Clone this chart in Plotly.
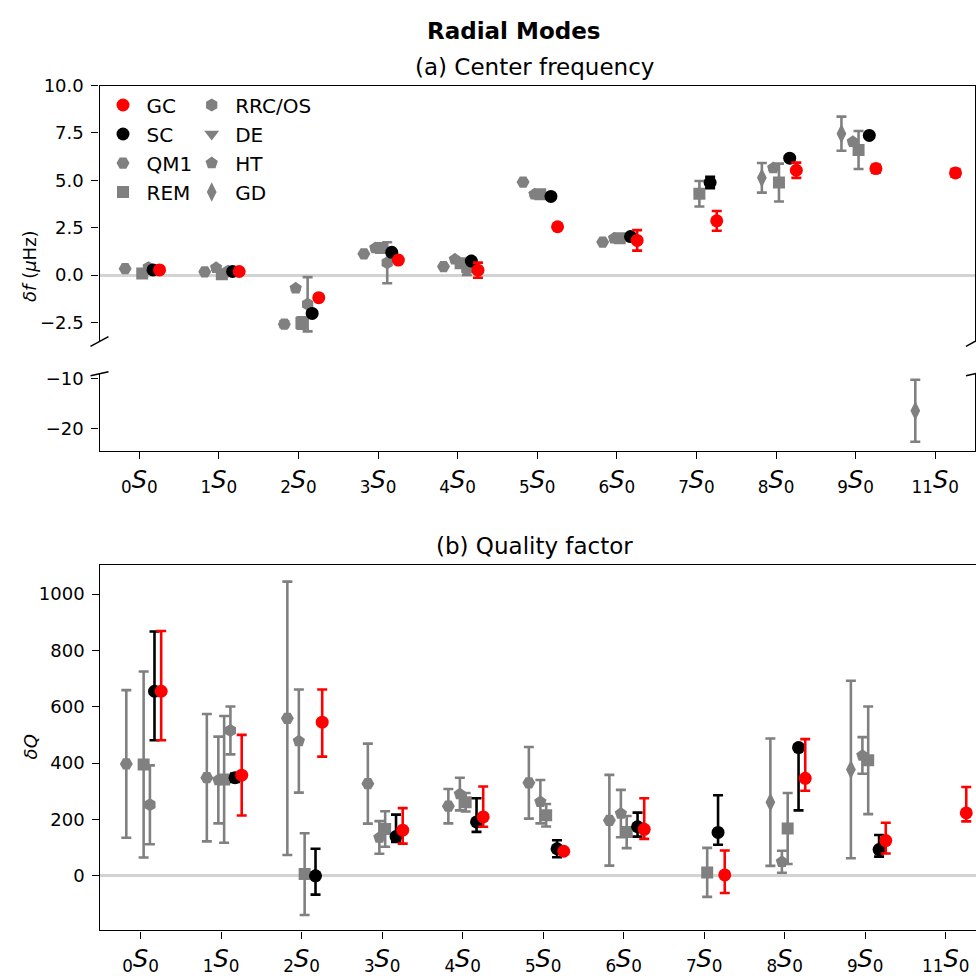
import plotly.graph_objects as go

# ---------------------------------------------------------------- data
modes = ["0", "1", "2", "3", "4", "5", "6", "7", "8", "9", "11"]
mode_pos = list(range(len(modes)))

# (a) centre-frequency shifts, micro-Hz
gc_f = [0.27, 0.19, -1.19, 0.79, 0.26, 2.55, 1.83, 2.86, 5.53, 5.62, 5.39]
gc_f_err = [0.08, 0.08, 0.1, 0.1, 0.40, 0.1, 0.54, 0.52, 0.40, 0.2, 0.2]
sc_f = [0.27, 0.19, -2.02, 1.20, 0.74, 4.15, 2.03, 4.88, 6.17, 7.37, None]
sc_f_err = [0.05, 0.05, 0.1, 0.1, 0.1, 0.1, 0.1, 0.30, 0.1, 0.1, None]
qm1_f = [0.34, 0.17, -2.59, 1.12, 0.45, 4.91, 1.74, None, None, None, None]
qm1_f_err = [0.05, 0.05, 0.15, 0.05, 0.05, 0.05, 0.05, None, None, None, None]
rem_f = [0.08, 0.05, -2.53, 1.43, 0.62, 4.27, 1.94, 4.29, 4.88, 6.60, None]
rem_f_err = [0.1, 0.1, 0.3, 0.2, 0.2, 0.1, 0.1, 0.67, 1.0, 1.0, None]
rrc_f = [0.39, 0.20, -1.54, 0.65, 0.31, None, None, None, None, None, None]
rrc_f_err = [0.1, 0.1, 1.43, 1.08, 0.30, None, None, None, None, None, None]
de_f = [None, None, None, None, None, None, None, None, None, None, None]
de_f_err = [None, None, None, None, None, None, None, None, None, None, None]
ht_f = [None, 0.39, -0.69, 1.43, 0.83, 4.27, 1.94, None, 5.65, 7.03, None]
ht_f_err = [None, 0.1, 0.1, 0.1, 0.1, 0.1, 0.1, None, 0.1, 0.1, None]
gd_f = [None, None, None, None, None, None, None, None, 5.13, 7.46, -16.4]
gd_f_err = [None, None, None, None, None, None, None, None, 0.78, 0.90, 6.2]

# (b) quality-factor values with upper / lower uncertainties
gc_q = [655, 357, 545, 162, 209, 87, 165, 3, 346, 125, 223]
gc_q_up = [214, 143, 116, 78, 108, 8, 110, 87, 139, 63, 92]
gc_q_lo = [174, 143, 122, 48, 35, 8, 34, 64, 44, 46, 30]
sc_q = [655, 348, 0, 139, 191, 96, 174, 154, 455, 93, None]
sc_q_up = [212, 15, 96, 78, 84, 30, 50, 132, 10, 52, None]
sc_q_lo = [174, 15, 67, 19, 35, 30, 35, 44, 223, 25, None]
qm1_q = [397, 348, 559, 327, 247, 330, 197, None, None, None, None]
qm1_q_err = [262, 226, 485, 142, 61, 127, 161, None, None, None, None]
rem_q = [395, 342, 6, 166, 261, 215, 155, 12, 168, 410, None]
rem_q_err = [330, 225, 145, 63, 33, 40, 57, 87, 126, 191, None]
rrc_q = [252, 516, None, None, None, None, None, None, None, None, None]
rrc_q_err = [140, 85, None, None, None, None, None, None, None, None, None]
de_q = [None, None, None, None, None, None, None, None, None, None, None]
de_q_err = [None, None, None, None, None, None, None, None, None, None, None]
ht_q = [None, 340, 478, 136, 290, 263, 221, None, 50, 427, None]
ht_q_err = [None, 154, 183, 58, 58, 77, 84, None, 39, 65, None]
gd_q = [None, None, None, None, None, None, None, None, 261, 377, None]
gd_q_err = [None, None, None, None, None, None, None, None, 226, 315, None]

# ---------------------------------------------------------------- styles
GREY = "#808080"
# colour, symbol, horizontal shift within a mode group, legend box, legend rank
series_style = {
    "QM1": (GREY, "hexagon2", -0.178, "legend", 3),
    "REM": (GREY, "square", 0.037, "legend", 4),
    "RRC/OS": (GREY, "hexagon", 0.115, "legend2", 5),
    "DE": (GREY, "triangle-down", -0.10, "legend2", 6),
    "HT": (GREY, "pentagon", -0.035, "legend2", 7),
    "GD": (GREY, "diamond-tall", -0.178, "legend2", 8),
    "SC": ("black", "circle", 0.172, "legend", 2),
    "GC": ("red", "circle", 0.255, "legend", 1),
}
# groups with only two entries are spread a little wider
shift_override = {("GD", 10): -0.25}

freq = {
    "QM1": (qm1_f, qm1_f_err, qm1_f_err),
    "REM": (rem_f, rem_f_err, rem_f_err),
    "RRC/OS": (rrc_f, rrc_f_err, rrc_f_err),
    "DE": (de_f, de_f_err, de_f_err),
    "HT": (ht_f, ht_f_err, ht_f_err),
    "GD": (gd_f, gd_f_err, gd_f_err),
    "SC": (sc_f, sc_f_err, sc_f_err),
    "GC": (gc_f, gc_f_err, gc_f_err),
}
qual = {
    "QM1": (qm1_q, qm1_q_err, qm1_q_err),
    "REM": (rem_q, rem_q_err, rem_q_err),
    "RRC/OS": (rrc_q, rrc_q_err, rrc_q_err),
    "DE": (de_q, de_q_err, de_q_err),
    "HT": (ht_q, ht_q_err, ht_q_err),
    "GD": (gd_q, gd_q_err, gd_q_err),
    "SC": (sc_q, sc_q_up, sc_q_lo),
    "GC": (gc_q, gc_q_up, gc_q_lo),
}
MARKER_SIZE = {"circle": 13, "square": 12, "hexagon": 13, "hexagon2": 13,
               "pentagon": 13, "triangle-down": 13, "diamond-tall": 14}

W = H = 976
FONT = "DejaVu Sans"
TICK_SIZE = 18
XTICK_SIZE = 24


def px_x(p):
    return p / W


def px_y(p):
    return 1 - p / H


fig = go.Figure()


def add_series(name, vals, up, lo, xa, ya, show):
    color, sym, shift, leg, rank = series_style[name]
    xs, ys, eu, el = [], [], [], []
    for i, v in enumerate(vals):
        if v is None:
            continue
        xs.append(mode_pos[i] + shift_override.get((name, i), shift))
        ys.append(v)
        eu.append(up[i] if up[i] is not None else 0)
        el.append(lo[i] if lo[i] is not None else 0)
    fig.add_trace(go.Scatter(
        x=xs if xs else [None], y=ys if ys else [None], mode="markers", name=name,
        xaxis=xa, yaxis=ya, legend=leg, legendrank=rank, showlegend=show,
        legendgroup=name,
        marker=dict(color=color, symbol=sym, size=MARKER_SIZE[sym], line=dict(width=0)),
        error_y=dict(type="data", symmetric=False, array=eu, arrayminus=el,
                     color=color, thickness=2.6, width=5),
    ))


order = ["QM1", "REM", "RRC/OS", "DE", "HT", "GD", "SC", "GC"]
for nm in order:
    v, u, l = freq[nm]
    add_series(nm, v, u, l, "x", "y", True)
    add_series(nm, v, u, l, "x2", "y2", False)
    v, u, l = qual[nm]
    add_series(nm, v, u, l, "x3", "y3", False)

ticktext = [f"<sub>{m}</sub><i>S</i><sub>0</sub>" for m in modes]
axis_common = dict(showline=True, linecolor="black", linewidth=1.3, showgrid=False,
                   ticks="outside", ticklen=7, tickwidth=1.3, tickcolor="black",
                   tickfont=dict(family=FONT, size=TICK_SIZE, color="black"))
yaxis_common = dict(axis_common, ticklabelstandoff=4)
xtick_font = dict(family=FONT, size=XTICK_SIZE, color="black")

xdom_top = [px_x(99.5), px_x(975)]
xdom_bot = [px_x(100.4), 1.0]
legend_common = dict(xanchor="left", yanchor="top", bgcolor="rgba(0,0,0,0)",
                     font=dict(family=FONT, size=20), tracegroupgap=0, itemwidth=37,
                     traceorder="normal")

fig.update_layout(
    width=W, height=H, margin=dict(l=0, r=0, t=0, b=0),
    paper_bgcolor="white", plot_bgcolor="white",
    font=dict(family=FONT, color="black"),
    xaxis=dict(axis_common, domain=xdom_top, range=[-0.5, 10.5], anchor="y",
               side="top", ticks="", showticklabels=False, zeroline=False),
    yaxis=dict(yaxis_common, domain=[px_y(337), px_y(76)], range=[-3.5, 10], anchor="x",
               mirror=True, tickvals=[-2.5, 0, 2.5, 5, 7.5, 10],
               ticktext=["\u22122.5", "0.0", "2.5", "5.0", "7.5", "10.0"],
               zeroline=True, zerolinecolor="#d3d3d3", zerolinewidth=2.5),
    xaxis2=dict(axis_common, domain=xdom_top, range=[-0.5, 10.5], anchor="y2",
                tickvals=mode_pos, ticktext=ticktext, zeroline=False, tickfont=xtick_font),
    yaxis2=dict(yaxis_common, domain=[px_y(448.5), px_y(370)], range=[-24.4, -9.02],
                anchor="x2", mirror=True, tickvals=[-20, -10],
                ticktext=["\u221220", "\u221210"], zeroline=False),
    xaxis3=dict(axis_common, domain=xdom_bot, range=[-0.5, 10.376], anchor="y3",
                mirror=True, tickvals=mode_pos, ticktext=ticktext, zeroline=False,
                tickfont=xtick_font),
    yaxis3=dict(yaxis_common, domain=[px_y(937.7), px_y(564.7)], range=[-194, 1104],
                anchor="x3", tickvals=[0, 200, 400, 600, 800, 1000],
                zeroline=True, zerolinecolor="#d3d3d3", zerolinewidth=2.5),
    legend=dict(legend_common, x=px_x(99.5), y=px_y(76)),
    legend2=dict(legend_common, x=px_x(188.2), y=px_y(76)),
    showlegend=True,
)

annotations = [
    dict(text="<b>Radial Modes</b>", x=px_x(513), y=px_y(20), font=dict(size=23)),
    dict(text="(a) Center frequency", x=px_x(534), y=px_y(57), font=dict(size=23)),
    dict(text="(b) Quality factor", x=px_x(534), y=px_y(546), font=dict(size=23)),
    dict(text="<i>δf</i> (<i>μ</i>Hz)", x=px_x(30), y=px_y(260), textangle=-90,
         font=dict(size=18)),
    dict(text="<i>δQ</i>", x=px_x(30), y=px_y(751), textangle=-90, font=dict(size=18)),
]
for a in annotations:
    a.update(xref="paper", yref="paper", showarrow=False, xanchor="center", yanchor="middle")
fig.update_layout(annotations=annotations)

# diagonal marks where the frequency axis is broken
brk = dict(type="line", xref="paper", yref="paper", line=dict(color="black", width=1.5))
shapes = []
for xc in (99.5, 975):
    shapes.append(dict(brk, x0=px_x(xc - 9), x1=px_x(xc + 9), y0=px_y(342), y1=px_y(332)))
    shapes.append(dict(brk, x0=px_x(xc - 9), x1=px_x(xc + 9), y0=px_y(372), y1=px_y(368)))
fig.update_layout(shapes=shapes)

fig.write_html("out.html")
